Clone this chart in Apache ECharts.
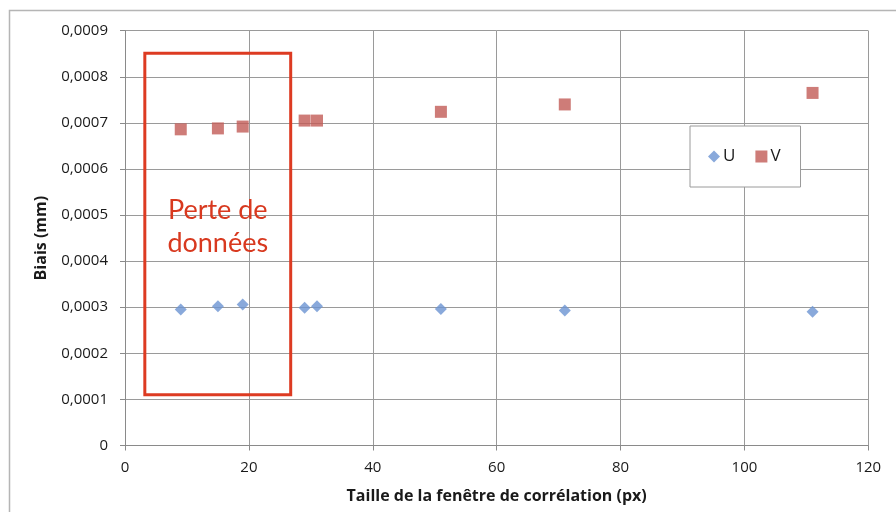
<!DOCTYPE html>
<html>
<head>
<meta charset="utf-8">
<script src="https://cdn.jsdelivr.net/npm/echarts@6/dist/echarts.min.js"></script>
<style>html,body{margin:0;padding:0;background:#fff;}#c{width:896px;height:512px;}</style>
</head>
<body>
<div id="c"></div>
<script>
var xValues = [9, 15, 19, 29, 31, 51, 71, 111];
var uValues = [0.000295, 0.000302, 0.000306, 0.000299, 0.000302, 0.000296, 0.000293, 0.00029];
var vValues = [0.000686, 0.000688, 0.000692, 0.000705, 0.000705, 0.000724, 0.00074, 0.000765];
var yTicks = [0, 0.0001, 0.0002, 0.0003, 0.0004, 0.0005, 0.0006, 0.0007, 0.0008, 0.0009];
var xTicks = [0, 20, 40, 60, 80, 100, 120];
var zoneX = [3.2, 26.75];
var zoneY = [0.00011, 0.000851];
var zoneLabel = 'Perte de\ndonnées';

var chart = echarts.init(document.getElementById('c'));
function pairs(xs, ys){ return xs.map(function(x,i){ return [x, ys[i]]; }); }
var font = 'Open Sans, Lato, sans-serif';
chart.setOption({
  animation: false,
  backgroundColor: '#fff',
  textStyle: { fontFamily: font },
  grid: { left: 125, right: 27.7, top: 30.7, bottom: 66.5 },
  xAxis: {
    type: 'value', min: xTicks[0], max: xTicks[xTicks.length-1], interval: 20,
    name: 'Taille de la fenêtre de corrélation (px)', nameLocation: 'middle', nameGap: 43,
    nameTextStyle: { fontSize: 16, fontWeight: 'bold', color: '#1a1a1a', fontFamily: font },
    axisLine: { lineStyle: { color: '#8a8a8a', width: 1 } },
    axisTick: { show: true, length: 5, lineStyle: { color: '#8a8a8a' } },
    axisLabel: { fontSize: 15, color: '#1a1a1a', margin: 15, fontFamily: font },
    splitLine: { show: true, lineStyle: { color: '#9a9a9a', width: 1 } }
  },
  yAxis: {
    type: 'value', min: yTicks[0], max: yTicks[yTicks.length-1], interval: 0.0001,
    name: 'Biais (mm)', nameLocation: 'middle', nameGap: 76, nameRotate: 90,
    nameTextStyle: { fontSize: 16, fontWeight: 'bold', color: '#1a1a1a', fontFamily: font },
    axisLine: { show: true, lineStyle: { color: '#8a8a8a', width: 1 } },
    axisTick: { show: true, length: 5, lineStyle: { color: '#8a8a8a' } },
    axisLabel: { fontSize: 15, color: '#1a1a1a', margin: 17, fontFamily: font,
      formatter: function(v){ return v === 0 ? '0' : v.toFixed(4).replace('.', ','); } },
    splitLine: { show: true, lineStyle: { color: '#9a9a9a', width: 1 } }
  },
  legend: {
    left: 690, top: 126, orient: 'horizontal',
    padding: [22, 20, 22, 18], itemGap: 20, itemWidth: 12, itemHeight: 12,
    borderColor: '#9a9a9a', borderWidth: 1, backgroundColor: '#fff',
    textStyle: { fontSize: 17, color: '#1a1a1a', fontFamily: font, padding: [3,0,0,-2] },
    data: [{ name: 'U', icon: 'diamond' }, { name: 'V', icon: 'rect' }]
  },
  graphic: [{
    type: 'rect', shape: { x: 9.5, y: 10.5, width: 900, height: 520 },
    style: { fill: 'none', stroke: '#b5b5b5', lineWidth: 1.5 }, silent: true, z: -1
  }],
  series: [{
    name: 'U', type: 'scatter', symbol: 'diamond', symbolSize: 12,
    itemStyle: { color: '#6b93d2' },
    data: pairs(xValues, uValues),
    markArea: {
      silent: true,
      itemStyle: { color: 'rgba(0,0,0,0)', borderColor: '#dd3b22', borderWidth: 3 },
      label: { show: true, position: 'inside', formatter: zoneLabel, color: '#d8391f',
        fontSize: 27, lineHeight: 33, fontFamily: 'Lato, Open Sans, sans-serif', align: 'center',
        offset: [0, 3] },
      data: [[{ coord: [zoneX[0], zoneY[1]] }, { coord: [zoneX[1], zoneY[0]] }]]
    }
  }, {
    name: 'V', type: 'scatter', symbol: 'rect', symbolSize: 12,
    itemStyle: { color: '#c25b56' },
    data: pairs(xValues, vValues)
  }]
});
</script>
</body>
</html>
